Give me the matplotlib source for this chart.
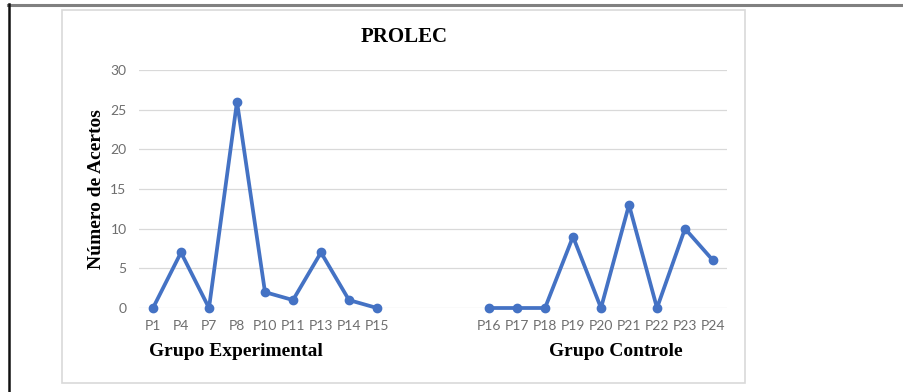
import numpy as np
import matplotlib
matplotlib.use("Agg")
import matplotlib.pyplot as plt
from matplotlib.patches import Rectangle
from matplotlib.lines import Line2D

labels_exp = ["P1", "P4", "P7", "P8", "P10", "P11", "P13", "P14", "P15"]
values_exp = [0, 7, 0, 26, 2, 1, 7, 1, 0]
labels_ctl = ["P16", "P17", "P18", "P19", "P20", "P21", "P22", "P23", "P24"]
values_ctl = [0, 0, 0, 9, 0, 13, 0, 10, 6]
gap = 3
yticks = [0, 5, 10, 15, 20, 25, 30]

labels = labels_exp + [""] * gap + labels_ctl
values = values_exp + [np.nan] * gap + values_ctl
x = np.arange(len(labels))

W, H = 904, 392
fig = plt.figure(figsize=(W / 100, H / 100), dpi=100)

# page borders
fig.add_artist(Line2D([8 / W, 1], [1 - 5 / H, 1 - 5 / H], color="#808080", lw=2.2))
fig.add_artist(Line2D([9 / W, 9 / W], [0, 1 - 4 / H], color="#111111", lw=1.8))
# chart box
fig.add_artist(Rectangle((62 / W, 1 - 383 / H), (745 - 62) / W, (383 - 10) / H,
                         transform=fig.transFigure, fill=False, ec="#d9d9d9", lw=1.2))

ax = fig.add_axes([139 / W, 84 / H, (727 - 139) / W, (308 - 70) / H])
ax.plot(x, values, color="#4472C4", lw=2.7, marker="o", ms=6, solid_capstyle="round",
        solid_joinstyle="round", zorder=3, clip_on=False)
ax.set_xlim(-0.5, len(labels) - 0.5)
ax.set_ylim(0, 30)
ax.set_yticks(yticks)
ax.set_xticks(x)
ax.set_xticklabels(labels)
for s in ax.spines.values():
    s.set_visible(False)
ax.grid(axis="y", color="#d9d9d9", lw=0.9)
ax.set_axisbelow(True)
ax.tick_params(length=0, labelsize=10, labelcolor="#6e6e6e", pad=9)
for t in ax.get_xticklabels() + ax.get_yticklabels():
    t.set_family("Lato")

serif = "Liberation Serif"
fig.text(404 / W, 1 - 37 / H, "PROLEC", ha="center", va="center",
         family=serif, weight="bold", fontsize=15)
fig.text(97 / W, 1 - 189 / H, "Número de Acertos", ha="center", va="center",
         rotation=90, family=serif, weight="bold", fontsize=14)
fig.text(236 / W, 1 - 352 / H, "Grupo Experimental", ha="center", va="center",
         family=serif, weight="bold", fontsize=14)
fig.text(616 / W, 1 - 352 / H, "Grupo Controle", ha="center", va="center",
         family=serif, weight="bold", fontsize=14)

fig.savefig("out.png", dpi=100)
